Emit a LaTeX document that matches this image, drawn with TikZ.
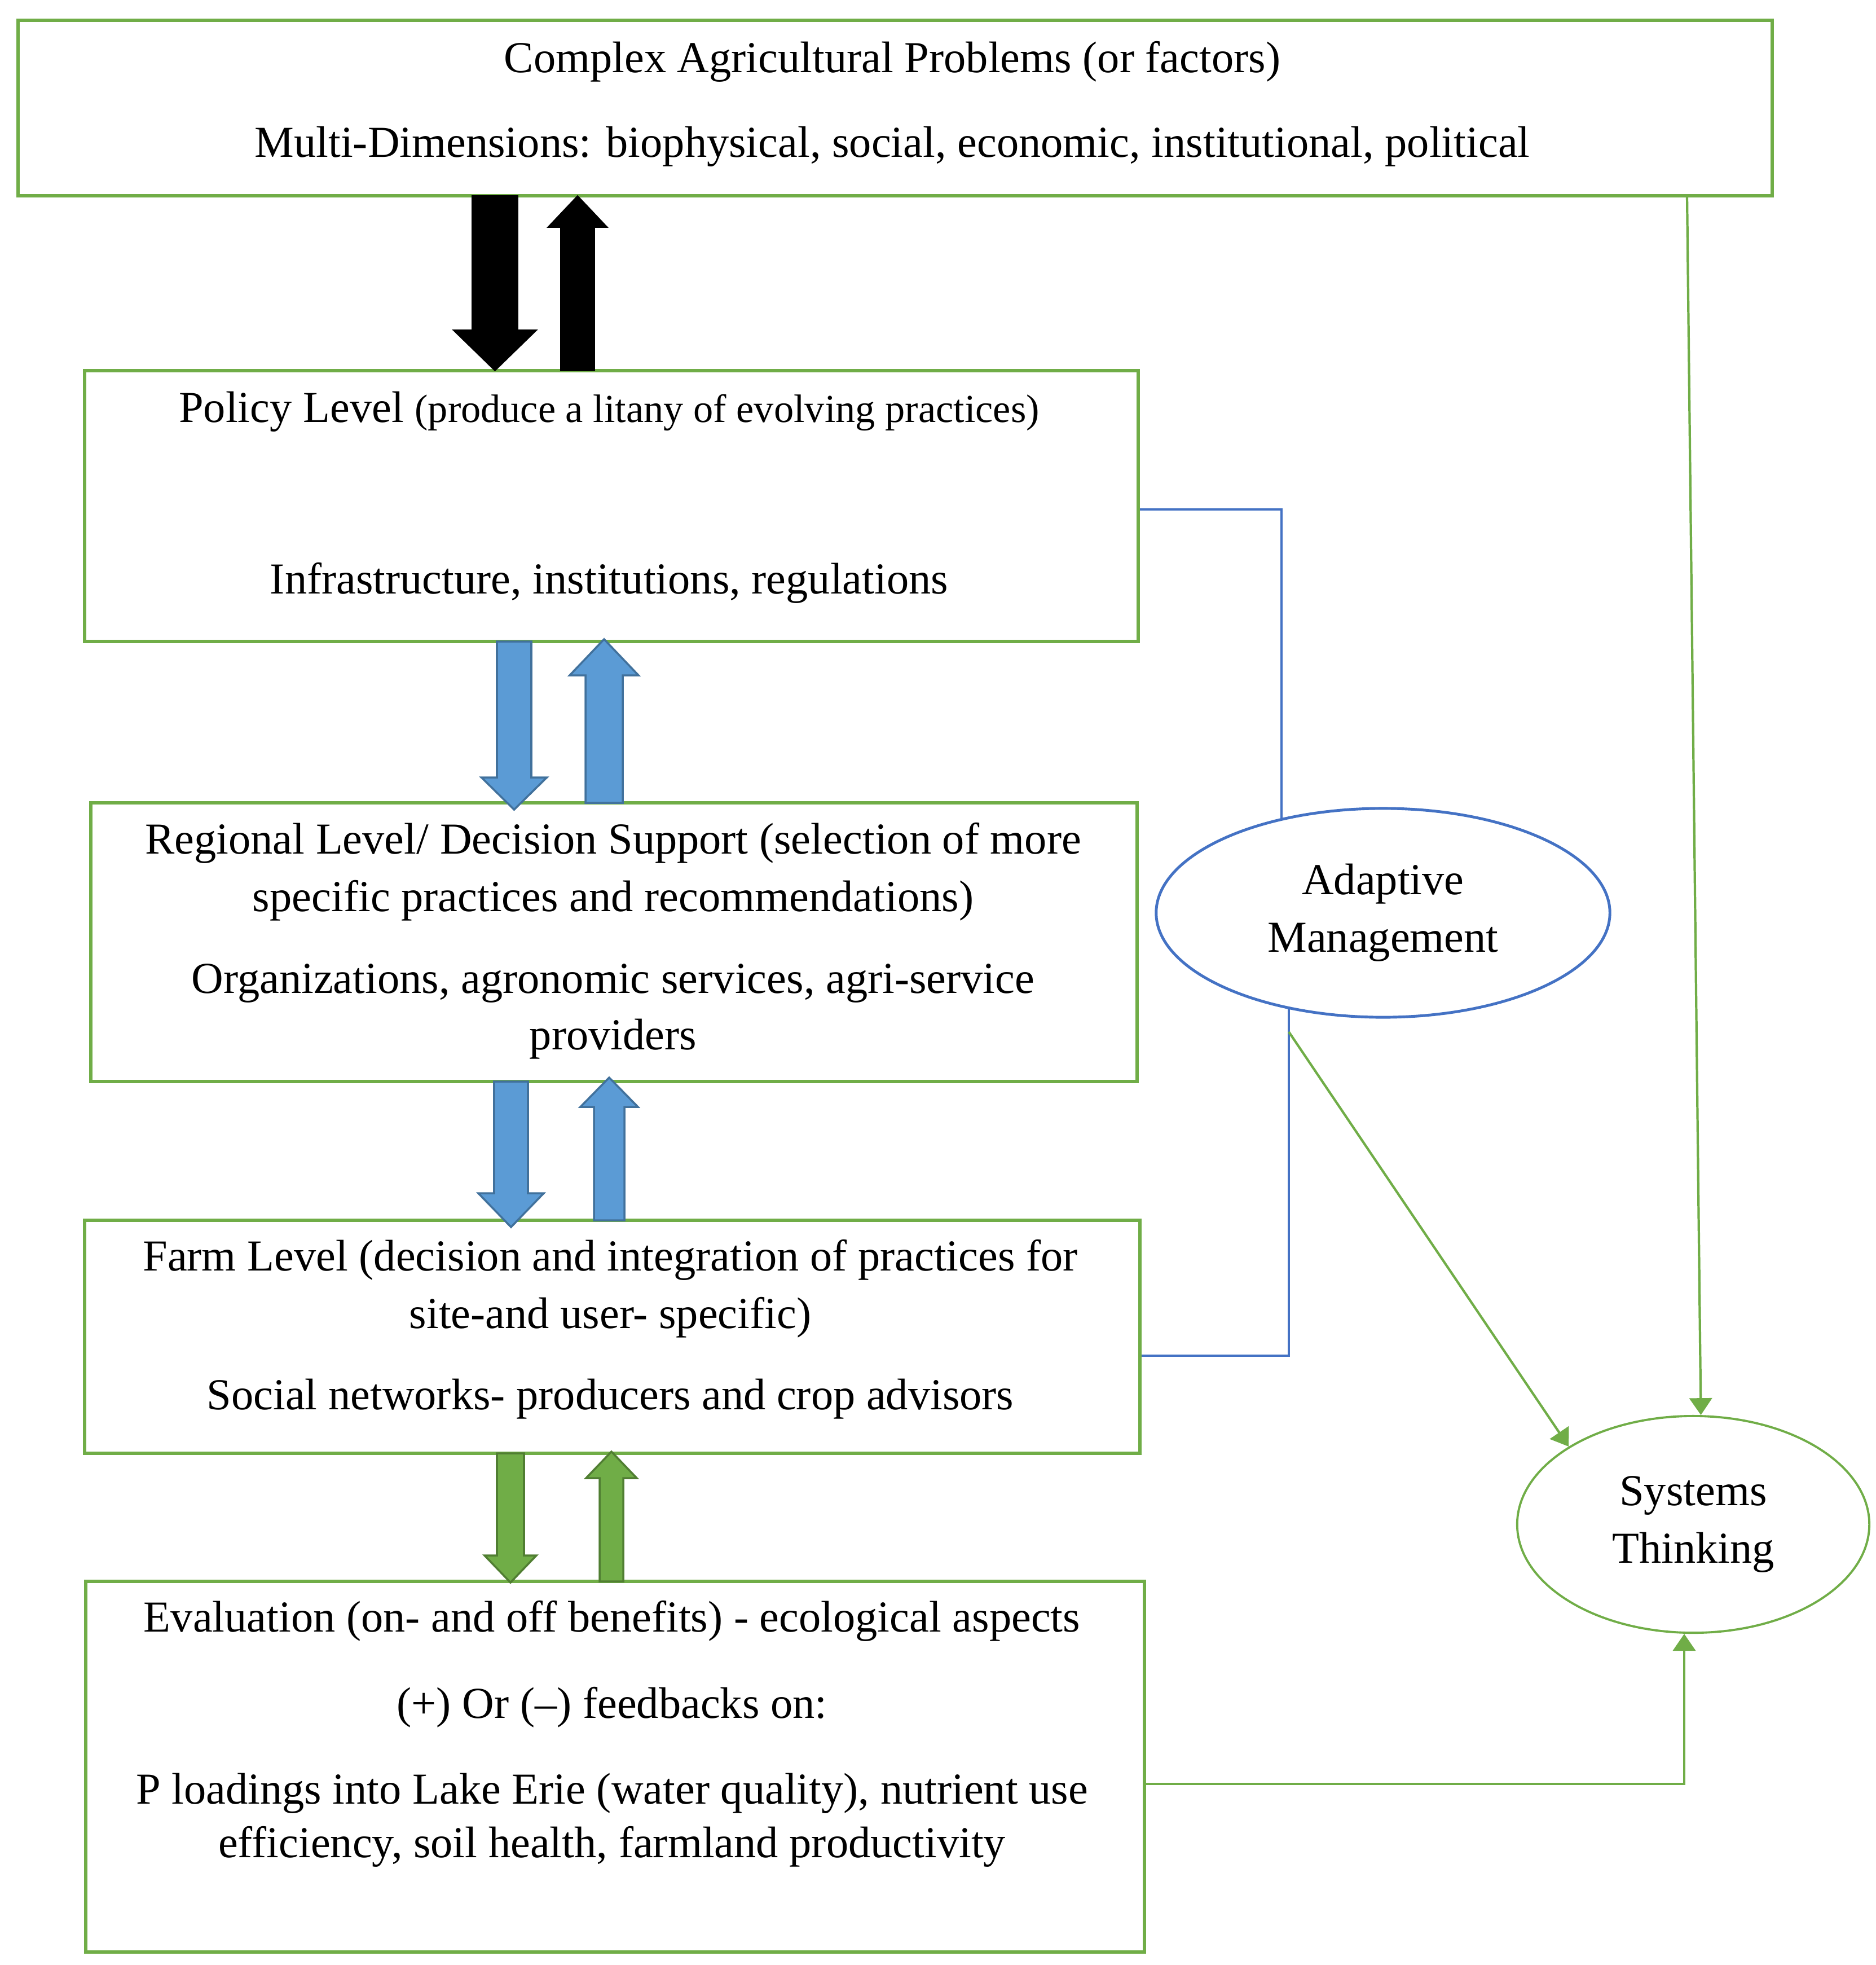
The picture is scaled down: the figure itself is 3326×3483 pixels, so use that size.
\documentclass[tikz,border=0pt]{standalone}
\usepackage{fontspec}
\setmainfont{Liberation Serif}
\usetikzlibrary{shapes.geometric,arrows.meta}
\pgfdeclarelayer{bg}
\pgfsetlayers{bg,main}
\definecolor{gr}{HTML}{70AD47}
\definecolor{grd}{HTML}{507E32}
\definecolor{bl}{HTML}{5B9BD5}
\definecolor{bld}{HTML}{41719C}
\definecolor{bll}{HTML}{4472C4}
\newcommand\BlkArrow[7]{\filldraw[#1] (#2-#3,#5) -- (#2-#3,#6) -- (#2-#4,#6) -- (#2,#7) -- (#2+#4,#6) -- (#2+#3,#6) -- (#2+#3,#5) -- cycle;}
\begin{document}
\begin{tikzpicture}[x=0.01cm,y=-0.01cm,
  every node/.style={font=\fontsize{22.3}{29}\selectfont},
  box/.style={draw=gr, line width=1.7pt, fill=white, rectangle, inner sep=0pt, outer sep=0pt},
  txt/.style={anchor=base, inner sep=0pt},
  ell/.style={ellipse, fill=white, inner sep=0pt, align=center},
  bline/.style={draw=bll, line width=1.2pt},
  gline/.style={draw=gr, line width=1.2pt, -{Triangle[width=0.4cm,length=0.3cm]}},
  blk/.style={fill=black, draw=black, line width=0.5pt},
  blu/.style={fill=bl, draw=bld, line width=1pt},
  grn/.style={fill=gr, draw=grd, line width=1pt}]
\useasboundingbox (0,0) rectangle (3326,3483);
% boxes
\node[box, minimum width=31.08cm, minimum height=3.11cm] (top) at (1587,191.5) {};
\node[box, minimum width=18.66cm, minimum height=4.80cm] (pol) at (1084,897) {};
\node[box, minimum width=18.53cm, minimum height=4.94cm] (reg) at (1088.5,1670) {};
\node[box, minimum width=18.69cm, minimum height=4.13cm] (farm) at (1085.5,2369.5) {};
\node[box, minimum width=18.75cm, minimum height=6.57cm] (eval) at (1090.5,3131.5) {};
% block arrows
\BlkArrow{blk}{877.5}{40.5}{74}{347}{585}{657}
\BlkArrow{blk}{1024}{30}{53}{657}{403}{347}
\BlkArrow{blu}{911.5}{30.5}{58}{1137}{1378}{1435}
\BlkArrow{blu}{1071}{33}{61}{1423}{1197}{1133}
\BlkArrow{blu}{906}{30}{58}{1917}{2115}{2175}
\BlkArrow{blu}{1080}{27}{51}{2163}{1962}{1910}
\BlkArrow{grn}{905}{24}{46}{2576}{2757}{2805}
\BlkArrow{grn}{1084}{21}{45}{2803}{2620}{2573}
% texts
\node[txt] (t1) at (1582,128) {Complex Agricultural Problems (or factors)};
\node[txt] (t2) at (1582,278) {Multi-Dimensions: biophysical, social, economic, institutional, political};
\node[txt] (p1) at (1080,748) {Policy Level {\fontsize{20}{29}\selectfont(produce a litany of evolving practices)}};
\node[txt] (p2) at (1080,1052) {Infrastructure, institutions, regulations};
\node[txt] (r1) at (1087,1513) {Regional Level/ Decision Support (selection of more};
\node[txt] (r2) at (1087,1615) {specific practices and recommendations)};
\node[txt] (r3) at (1087,1760) {Organizations, agronomic services, agri-service};
\node[txt] (r4) at (1087,1860) {providers};
\node[txt] (f1) at (1082,2252) {Farm Level (decision and integration of practices for};
\node[txt] (f2) at (1082,2354) {site-and user- specific)};
\node[txt] (f3) at (1082,2498) {Social networks- producers and crop advisors};
\node[txt] (e1) at (1085,2892) {Evaluation (on- and off benefits) - ecological aspects};
\node[txt] (e2) at (1085,3045) {(+) Or (–) feedbacks on:};
\node[txt] (e3) at (1085,3197) {P loadings into Lake Erie (water quality), nutrient use};
\node[txt] (e4) at (1085,3292) {efficiency, soil health, farmland productivity};
% ellipses
\node[ell, draw=bll, line width=1.4pt, minimum width=8.04cm, minimum height=3.70cm] (am) at (2452,1618) {Adaptive\\Management};
\node[ell, draw=gr, line width=1.1pt, minimum width=6.24cm, minimum height=3.84cm] (st) at (3002,2702) {Systems\\Thinking};
% connectors
\coordinate (bp) at (2272,903);
\coordinate (bf) at (2285,2403);
\coordinate (amfoot) at (2285,1829);
\coordinate (gv) at (2991,347);
\coordinate (ec) at (2986,3162);
\begin{pgfonlayer}{bg}
\draw[bline] (pol.east |- bp) -- (bp) -- (bp |- am.center);
\draw[bline] (farm.east |- bf) -- (bf) -- (bf |- am.center);
\end{pgfonlayer}
\draw[gline] (top.south -| gv) -- (st.86);
\draw[gline] (amfoot) -- (st.148);
\draw[gline] (eval.east |- ec) -- (ec) -- (ec |- st.south);
\end{tikzpicture}
\end{document}
